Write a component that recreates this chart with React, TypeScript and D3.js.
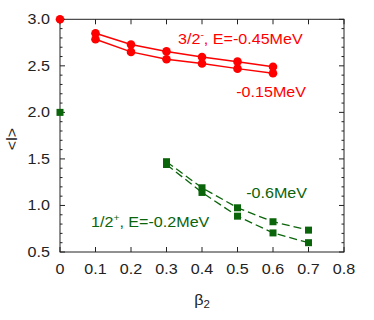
import React from "react";
import * as d3 from "d3";

const betaRed = [0.1, 0.2, 0.3, 0.4, 0.5, 0.6];
const redUpper = [2.85, 2.73, 2.655, 2.595, 2.545, 2.49];
const redLower = [2.785, 2.65, 2.57, 2.525, 2.47, 2.42];
const betaGreen = [0.3, 0.4, 0.5, 0.6, 0.7];
const greenUpper = [1.47, 1.19, 0.975, 0.825, 0.735];
const greenLower = [1.44, 1.14, 0.885, 0.705, 0.6];
const redSpherical = { beta: 0, l: 3.0 };
const greenSpherical = { beta: 0, l: 2.0 };
const xTicks = [0, 0.1, 0.2, 0.3, 0.4, 0.5, 0.6, 0.7, 0.8];
const xTickLabels = ["0", "0.1", "0.2", "0.3", "0.4", "0.5", "0.6", "0.7", "0.8"];
const yTicks = [0.5, 1.0, 1.5, 2.0, 2.5, 3.0];
const yTickLabels = ["0.5", "1.0", "1.5", "2.0", "2.5", "3.0"];

const RED = "#ff0000";
const GREEN = "#0a640a";
const AXIS = "#222";
const FONT = "'Liberation Sans', Arial, sans-serif";
const SX = 1.15;

function T({ x, y, anchor = "start", fill = AXIS, size = 14, children, rotate = 0 }: any) {
  return (
    <text
      transform={`translate(${x},${y}) rotate(${rotate}) scale(${SX},1)`}
      textAnchor={anchor}
      fill={fill}
      fontSize={size}
      fontFamily={FONT}
    >
      {children}
    </text>
  );
}

export default function App() {
  const x = d3.scaleLinear().domain([0, 0.8]).range([60, 344]);
  const y = d3.scaleLinear().domain([0.5, 3.0]).range([252, 19.3]);
  const [x0, x1] = x.range();
  const [yb, yt] = y.range();

  const line = d3
    .line<[number, number]>()
    .x((d) => x(d[0]))
    .y((d) => y(d[1]));

  const pts = (xs: number[], ys: number[]) => xs.map((b, i) => [b, ys[i]] as [number, number]);
  const redU = pts(betaRed, redUpper);
  const redL = pts(betaRed, redLower);
  const grU = pts(betaGreen, greenUpper);
  const grL = pts(betaGreen, greenLower);

  const minorY = d3.range(0.5, 3.0001, 0.1).filter((v) => Math.abs(v * 2 - Math.round(v * 2)) > 1e-6);
  const maj = 5;
  const minr = 2.5;
  const sq = 7;

  return (
    <svg width={374} height={320} style={{ position: "absolute", left: 0, top: 0 }}>
      <rect x={0} y={0} width={374} height={320} fill="#fff" />
      {/* ticks */}
      <g stroke={AXIS} strokeWidth={1}>
        {xTicks.map((t, i) => (
          <g key={"xt" + i}>
            <line x1={x(t)} x2={x(t)} y1={yb} y2={yb - maj} />
            <line x1={x(t)} x2={x(t)} y1={yt} y2={yt + maj} />
          </g>
        ))}
        {yTicks.map((t, i) => (
          <g key={"yt" + i}>
            <line x1={x0} x2={x0 + maj} y1={y(t)} y2={y(t)} />
            <line x1={x1} x2={x1 - maj} y1={y(t)} y2={y(t)} />
          </g>
        ))}
        {minorY.map((t, i) => (
          <g key={"ym" + i}>
            <line x1={x0} x2={x0 + minr} y1={y(t)} y2={y(t)} />
            <line x1={x1} x2={x1 - minr} y1={y(t)} y2={y(t)} />
          </g>
        ))}
      </g>
      <rect x={x0} y={yt} width={x1 - x0} height={yb - yt} fill="none" stroke={AXIS} strokeWidth={1} />
      {/* tick labels */}
      {xTicks.map((t, i) => (
        <T key={"xl" + i} x={x(t)} y={274} anchor="middle">
          {xTickLabels[i]}
        </T>
      ))}
      {yTicks.map((t, i) => (
        <T key={"yl" + i} x={50} y={y(t) + 5} anchor="end">
          {yTickLabels[i]}
        </T>
      ))}
      {/* axis titles */}
      <T x={202} y={305} anchor="middle">
        β<tspan fontSize={10} dy={3}>2</tspan>
      </T>
      <T x={17} y={139} anchor="middle" rotate={-90}>
        {"<l>"}
      </T>
      {/* red series */}
      <path d={line(redU) || ""} fill="none" stroke={RED} strokeWidth={1.5} />
      <path d={line(redL) || ""} fill="none" stroke={RED} strokeWidth={1.5} />
      {[...redU, ...redL, [redSpherical.beta, redSpherical.l] as [number, number]].map((p, i) => (
        <circle key={"rc" + i} cx={x(p[0])} cy={y(p[1])} r={4.3} fill={RED} />
      ))}
      {/* green series */}
      <path d={line(grU) || ""} fill="none" stroke={GREEN} strokeWidth={1.3} strokeDasharray="8,4" />
      <path d={line(grL) || ""} fill="none" stroke={GREEN} strokeWidth={1.3} strokeDasharray="8,4" />
      {[...grU, ...grL, [greenSpherical.beta, greenSpherical.l] as [number, number]].map((p, i) => (
        <rect key={"gs" + i} x={x(p[0]) - sq / 2} y={y(p[1]) - sq / 2} width={sq} height={sq} fill={GREEN} />
      ))}
      {/* annotations */}
      <T x={178} y={44} fill={RED}>
        3/2<tspan fontSize={9} dy={-6}>-</tspan>
        <tspan dy={6}>, E=-0.45MeV</tspan>
      </T>
      <T x={306} y={97} anchor="end" fill={RED}>
        -0.15MeV
      </T>
      <T x={307} y={198} anchor="end" fill={GREEN}>
        -0.6MeV
      </T>
      <T x={91} y={227} fill={GREEN}>
        1/2<tspan fontSize={9} dy={-6}>+</tspan>
        <tspan dy={6}>, E=-0.2MeV</tspan>
      </T>
    </svg>
  );
}
